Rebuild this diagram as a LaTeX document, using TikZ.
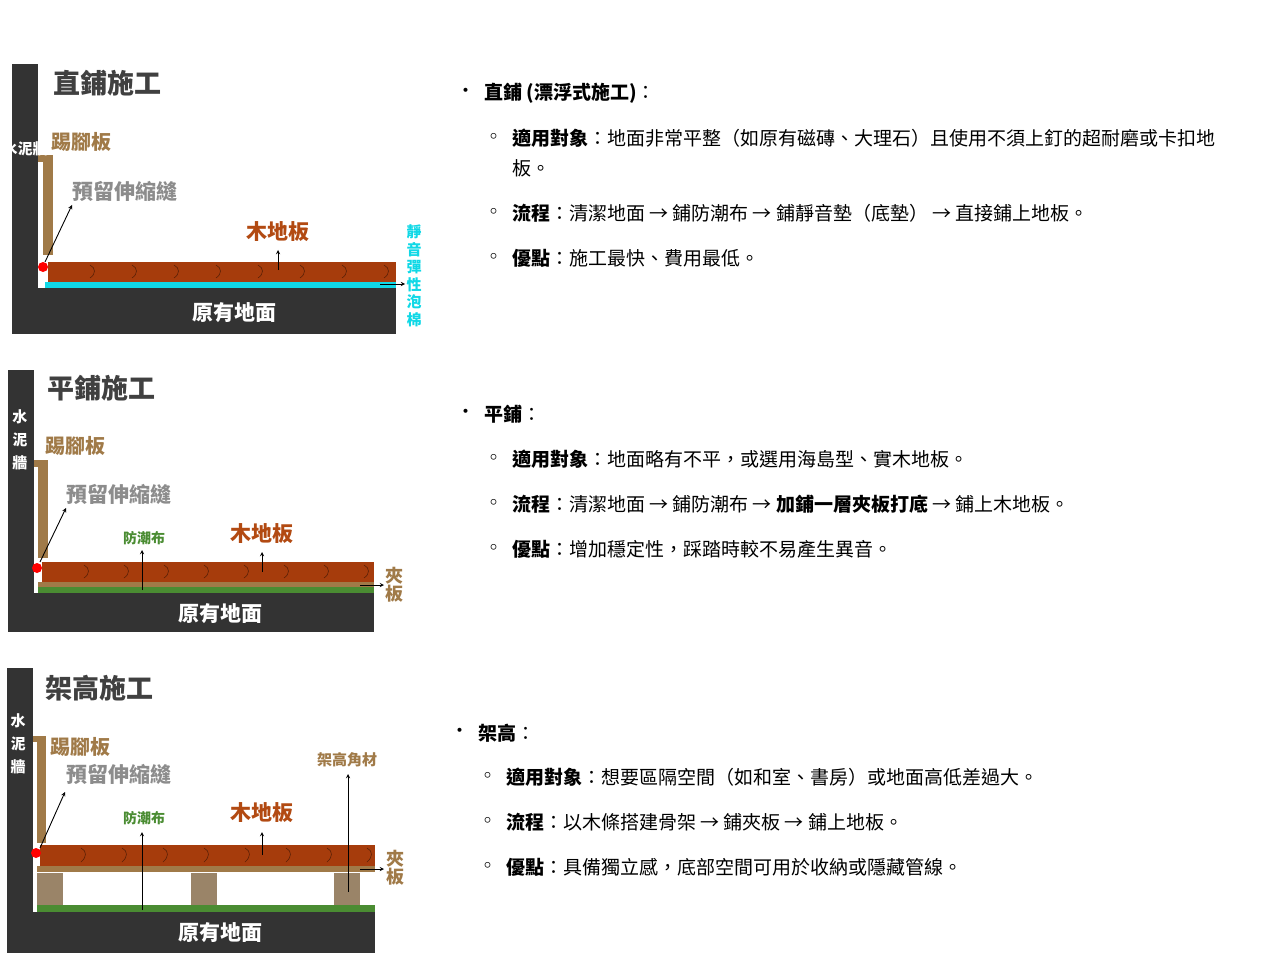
\documentclass[tikz,border=0pt]{standalone}
\usepackage{fontspec}
\setmainfont{Noto Sans CJK TC}
\begin{document}
\begin{tikzpicture}[x=1pt,y=-1pt,
  lbl/.style={anchor=west,inner sep=0pt,font=\fontsize{19}{22}\selectfont},
  ttl/.style={anchor=west,inner sep=0pt,font=\fontsize{27}{30}\selectfont\bfseries,text=black!75},
  wallt/.style={inner sep=0pt,text=white,font=\fontsize{15}{17}\selectfont\bfseries},
  ground/.style={inner sep=0pt,text=white,font=\fontsize{21}{24}\selectfont\bfseries},
  brn/.style={text=brownL,font=\fontsize{20}{22}\selectfont\bfseries,inner sep=0pt,anchor=west},
  gry/.style={text=gray!90,font=\fontsize{21}{24}\selectfont\bfseries,inner sep=0pt,anchor=west},
  wood/.style={text=woodT,font=\fontsize{21}{24}\selectfont\bfseries,inner sep=0pt},
  smg/.style={text=greenL,font=\fontsize{14}{16}\selectfont\bfseries,inner sep=0pt},
  arr/.style={-stealth,black,line width=0.9pt},
  joint/.style={draw=black!45!woodC,line width=0.6pt}]
\definecolor{dark}{HTML}{333333}
\definecolor{woodC}{HTML}{A63C0C}
\definecolor{woodT}{HTML}{B24A12}
\definecolor{brownL}{HTML}{A07A48}
\definecolor{cyanL}{HTML}{10D8E6}
\definecolor{greenL}{HTML}{4A8C32}
\definecolor{joist}{HTML}{9A8468}
\useasboundingbox (0,0) rectangle (1280,960);
% ===== diagram 1
\fill[dark] (12,64) rectangle (38,334);
\fill[dark] (12,288) rectangle (396,334);
\fill[brownL] (38,155) rectangle (53,255);
\fill[white] (38,162) rectangle (43,255);
\fill[woodC] (48,262) rectangle (396,282);
\foreach \x in {90,132,174,216,258,300,342,384}{\draw[joint] (\x,265) .. controls (\x+6,268) and (\x+6,274) .. (\x,278);}
\fill[cyanL] (45,282) rectangle (396,288);
\fill[red] (43,267) circle (5);
\node[ttl] (t1) at (53,83) {直鋪施工};
\node[wallt] (w1) at (25,149) {水\\[6pt]泥\\[6pt]牆};
\node[wallt,align=center] at (25,136) {\phantom{.}};
\node[brn] (k1) at (51,142) {踢腳板};
\node[gry] (g1) at (72,191) {預留伸縮縫};
\node[wood] (m1) at (278,232) {木地板};
\node[ground] (f1) at (234,313) {原有地面};
\node[text=cyanL,font=\fontsize{15}{17.5}\selectfont\bfseries,align=center,inner sep=0pt] (c1) at (414,276) {靜\\音\\彈\\性\\泡\\棉};
\coordinate (a1) at (45,262); \coordinate (a1e) at (72,205);
\draw[arr] (a1) -- (a1e);
\coordinate (b1) at (278,270); \coordinate (b1e) at (278,250);
\draw[arr] (b1) -- (b1e);
\coordinate (d1) at (380,284); \coordinate (d1e) at (405,284);
\draw[arr] (d1) -- (d1e);
% ===== diagram 2
\fill[dark] (8,370) rectangle (34,632);
\fill[dark] (8,593) rectangle (374,632);
\fill[brownL] (34,460) rectangle (48,558);
\fill[white] (34,467) rectangle (38,558);
\fill[woodC] (42,562) rectangle (374,582);
\foreach \x in {84,124,164,204,244,284,324,364}{\draw[joint] (\x,565) .. controls (\x+6,568) and (\x+6,574) .. (\x,578);}
\fill[brownL] (38,582) rectangle (374,587);
\fill[greenL] (38,587) rectangle (374,593);
\fill[red] (37,568) circle (5);
\node[ttl] (t2) at (47,388) {平鋪施工};
\node[wallt,align=center] (w2) at (20,440) {水\\[6pt]泥\\[6pt]牆};
\node[brn] (k2) at (45,446) {踢腳板};
\node[gry] (g2) at (66,494) {預留伸縮縫};
\node[smg] (p2) at (144,538) {防潮布};
\node[wood] (m2) at (262,534) {木地板};
\node[ground] (f2) at (220,614) {原有地面};
\node[text=brownL,font=\fontsize{18}{18}\selectfont\bfseries,align=center,inner sep=0pt] (j2) at (394,585) {夾\\板};
\draw[arr] (40,562) -- (66,508);
\draw[arr] (142,590) -- (142,550);
\draw[arr] (262,572) -- (262,552);
\draw[arr] (360,585) -- (384,585);
% ===== diagram 3
\fill[dark] (7,668) rectangle (33,953);
\fill[dark] (7,912) rectangle (375,953);
\fill[brownL] (33,736) rectangle (46,843);
\fill[white] (33,742) rectangle (37,843);
\fill[woodC] (40,845) rectangle (375,866);
\foreach \x in {81,122,163,204,245,286,327,367}{\draw[joint] (\x,848) .. controls (\x+6,851) and (\x+6,857) .. (\x,862);}
\fill[brownL] (37,866) rectangle (375,872);
\fill[joist] (37,873) rectangle (63,905);
\fill[joist] (191,873) rectangle (217,905);
\fill[joist] (334,873) rectangle (360,905);
\fill[greenL] (37,905) rectangle (375,912);
\fill[red] (36,853) circle (5);
\node[ttl] (t3) at (45,688) {架高施工};
\node[wallt,align=center] (w3) at (18,744) {水\\[6pt]泥\\[6pt]牆};
\node[brn] (k3) at (50,747) {踢腳板};
\node[gry] (g3) at (66,774) {預留伸縮縫};
\node[smg] (p3) at (144,818) {防潮布};
\node[wood] (m3) at (262,813) {木地板};
\node[text=brownL,font=\fontsize{15}{17}\selectfont\bfseries,inner sep=0pt] (h3) at (347,760) {架高角材};
\node[ground] (f3) at (220,933) {原有地面};
\node[text=brownL,font=\fontsize{18}{18}\selectfont\bfseries,align=center,inner sep=0pt] (j3) at (395,868) {夾\\板};
\draw[arr] (40,848) -- (65,792);
\draw[arr] (142,910) -- (142,832);
\draw[arr] (262,855) -- (262,832);
\draw[arr] (348,892) -- (348,774);
\draw[arr] (360,869) -- (384,869);
% ===== right text
\node[lbl] (b1) at (456,93) {•};
\node[lbl] (s1) at (484,93) {\bfseries 直鋪 (漂浮式施工)\mdseries：};
\node[lbl] (b11) at (484,138) {◦};
\node[lbl] (s11) at (512,138) {\bfseries 適用對象\mdseries：地面非常平整（如原有磁磚、大理石）且使用不須上釘的超耐磨或卡扣地};
\node[lbl] (s11b) at (512,168) {板。};
\node[lbl] (b12) at (484,213) {◦};
\node[lbl] (s12) at (512,213) {\bfseries 流程\mdseries：清潔地面 → 鋪防潮布 → 鋪靜音墊（底墊） → 直接鋪上地板。};
\node[lbl] (b13) at (484,258) {◦};
\node[lbl] (s13) at (512,258) {\bfseries 優點\mdseries：施工最快、費用最低。};
\node[lbl] (b2) at (456,414) {•};
\node[lbl] (s2) at (484,414) {\bfseries 平鋪\mdseries：};
\node[lbl] (b21) at (484,459) {◦};
\node[lbl] (s21) at (512,459) {\bfseries 適用對象\mdseries：地面略有不平，或選用海島型、實木地板。};
\node[lbl] (b22) at (484,504) {◦};
\node[lbl] (s22) at (512,504) {\bfseries 流程\mdseries：清潔地面 → 鋪防潮布 → \bfseries 加鋪一層夾板打底\mdseries{} → 鋪上木地板。};
\node[lbl] (b23) at (484,549) {◦};
\node[lbl] (s23) at (512,549) {\bfseries 優點\mdseries：增加穩定性，踩踏時較不易產生異音。};
\node[lbl] (b3) at (450,733) {•};
\node[lbl] (s3) at (478,733) {\bfseries 架高\mdseries：};
\node[lbl] (b31) at (478,777) {◦};
\node[lbl] (s31) at (506,777) {\bfseries 適用對象\mdseries：想要區隔空間（如和室、書房）或地面高低差過大。};
\node[lbl] (b32) at (478,822) {◦};
\node[lbl] (s32) at (506,822) {\bfseries 流程\mdseries：以木條搭建骨架 → 鋪夾板 → 鋪上地板。};
\node[lbl] (b33) at (478,867) {◦};
\node[lbl] (s33) at (506,867) {\bfseries 優點\mdseries：具備獨立感，底部空間可用於收納或隱藏管線。};
\end{tikzpicture}
\end{document}
